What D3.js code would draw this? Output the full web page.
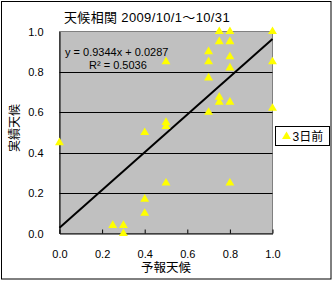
<!DOCTYPE html>
<html>
<head>
<meta charset="utf-8">
<script src="https://cdn.jsdelivr.net/npm/d3@7"></script>
<style>
  body { margin: 0; background: #fff; }
  text { font-family: "Liberation Sans", "Noto Sans CJK JP", sans-serif; fill: #000; }
</style>
</head>
<body>
<div id="chart"></div>
<script>
// forecast (x) vs actual (y), series "3日前"
var forecast = [0.0, 0.75, 0.8, 1.0, 0.75, 0.8, 0.7, 0.8, 0.5, 0.7, 1.0, 0.8, 0.7, 0.75, 0.75, 0.8, 0.7, 1.0, 0.5, 0.5, 0.4, 0.5, 0.8, 0.4, 0.4, 0.25, 0.3, 0.3];
var actual   = [0.45, 1.0, 1.0, 1.0, 0.95, 0.95, 0.9, 0.875, 0.85, 0.85, 0.85, 0.82, 0.77, 0.675, 0.65, 0.65, 0.6, 0.62, 0.55, 0.53, 0.5, 0.25, 0.25, 0.17, 0.1, 0.04, 0.04, 0.0];
var xTicks = [0, 0.2, 0.4, 0.6, 0.8, 1.0];
var yTicks = [0, 0.2, 0.4, 0.6, 0.8, 1.0];
var slope = 0.9344, intercept = 0.0287, r2 = 0.5036;

var width = 333, height = 281;

var svg = d3.select("#chart").append("svg")
  .attr("width", width)
  .attr("height", height);

// chart border
svg.append("rect")
  .attr("x", 1.5).attr("y", 1.5)
  .attr("width", 329.5).attr("height", 277.5)
  .attr("fill", "#fff").attr("stroke", "#000");

var x = d3.scaleLinear().domain([0, 1]).range([59.5, 272.5]);
var y = d3.scaleLinear().domain([0, 1]).range([233.5, 31.5]);

// plot area
svg.append("rect")
  .attr("x", x(0)).attr("y", y(1))
  .attr("width", x(1) - x(0)).attr("height", y(0) - y(1))
  .attr("fill", "#c0c0c0").attr("stroke", "#808080");

// gridlines
svg.append("g")
  .selectAll("line")
  .data(yTicks.filter(d => d > 0 && d < 1))
  .join("line")
    .attr("x1", x(0)).attr("x2", x(1))
    .attr("y1", d => Math.round(y(d)) + 0.5).attr("y2", d => Math.round(y(d)) + 0.5)
    .attr("stroke", "#000");

// axes
var xAxis = svg.append("g")
  .attr("transform", `translate(0,${y(0)})`)
  .call(d3.axisBottom(x).tickValues(xTicks).tickFormat(d3.format(".1f")).tickSizeInner(-4).tickSizeOuter(0).tickPadding(17));
var yAxis = svg.append("g")
  .attr("transform", `translate(${x(0)},0)`)
  .call(d3.axisLeft(y).tickValues(yTicks).tickFormat(d3.format(".1f")).tickSize(0).tickPadding(16));
[xAxis, yAxis].forEach(function(a) {
  a.select(".domain").attr("stroke", "#000");
  a.selectAll("line").attr("stroke", "#000");
  a.selectAll("text").attr("font-size", 11).attr("font-family", "Liberation Sans, sans-serif");
});

// trendline
svg.append("line")
  .attr("x1", x(0)).attr("y1", y(intercept))
  .attr("x2", x(1)).attr("y2", y(slope + intercept))
  .attr("stroke", "#000").attr("stroke-width", 2);

// points
var tri = d3.symbol().type(d3.symbolTriangle).size(34);
svg.append("g")
  .selectAll("path")
  .data(forecast.map((f, i) => [f, actual[i]]))
  .join("path")
    .attr("d", tri)
    .attr("transform", d => `translate(${x(d[0])},${y(d[1])})`)
    .attr("fill", "#ffff00");

// equation
svg.append("text").attr("x", 65).attr("y", 56).attr("font-size", 11)
  .text(`y = ${slope}x + ${intercept}`);
svg.append("text").attr("x", 89).attr("y", 69).attr("font-size", 11)
  .text(`R² = ${r2}`);

// title
svg.append("text").attr("x", 64).attr("y", 22).attr("font-size", 13)
  .attr("letter-spacing", 0.35)
  .text("天候相関 2009/10/1～10/31");

// axis titles
svg.append("text").attr("x", 166).attr("y", 272).attr("font-size", 12.5)
  .attr("text-anchor", "middle").text("予報天候");
svg.append("text").attr("transform", "translate(19,128) rotate(-90)").attr("font-size", 12)
  .attr("text-anchor", "middle").text("実績天候");

// legend
var legend = svg.append("g").attr("transform", "translate(275.5,126.5)");
legend.append("rect").attr("width", 54).attr("height", 19)
  .attr("fill", "#fff").attr("stroke", "#000");
legend.append("path").attr("d", tri).attr("transform", "translate(11,10)").attr("fill", "#ffff00");
legend.append("text").attr("x", 17).attr("y", 14).attr("font-size", 12).text("3日前");
</script>
</body>
</html>
